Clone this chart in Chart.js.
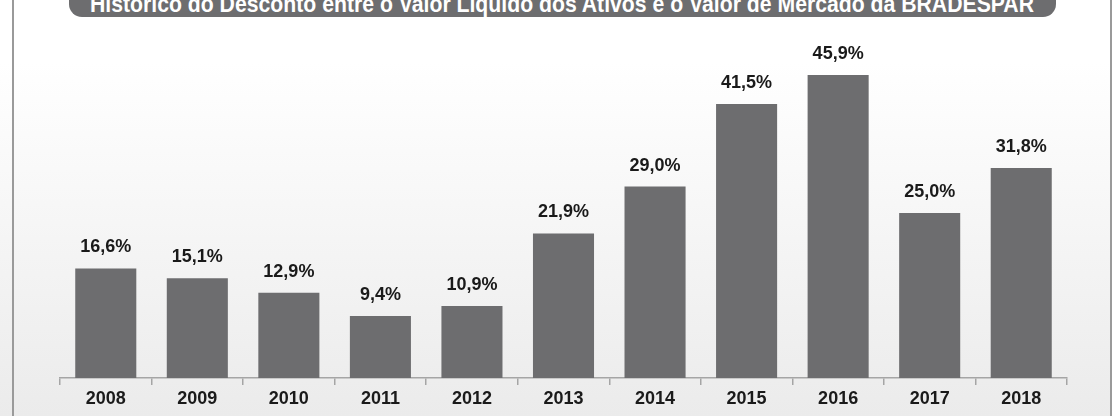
<!DOCTYPE html>
<html>
<head>
<meta charset="utf-8">
<script src="https://cdn.jsdelivr.net/npm/chart.js@4.4.0/dist/chart.umd.min.js"></script>
<style>
  html, body { margin: 0; padding: 0; }
  body { width: 1112px; height: 416px; overflow: hidden; position: relative;
         background: linear-gradient(#ffffff 15%, #ebebeb 100%); font-family: "Liberation Sans", Arial, sans-serif; }
  #frame { position: absolute; left: 12px; top: 0; width: 1100px; height: 416px;
           border-left: 2px solid #9a9a9a; border-right: 2px solid #9a9a9a; box-sizing: border-box; }
  #titleBox { position: absolute; left: 69px; top: -20px; width: 987px; height: 37px;
              background: #6d6d6f; border-radius: 0 0 13px 13px; overflow: hidden; }
  #title { position: absolute; left: 21px; top: 12px; white-space: nowrap; color: #fff;
           font-family: "Liberation Sans Narrow", "Arial Narrow", "Liberation Sans", sans-serif;
           font-weight: bold; font-size: 24px; line-height: 24px; transform-origin: 0 0; }
  #wrap { position: absolute; left: 0; top: 0; width: 1112px; height: 416px; }
</style>
</head>
<body>
<div id="frame"></div>
<div id="titleBox"><div id="title">Histórico do Desconto entre o Valor Líquido dos Ativos e o Valor de Mercado da BRADESPAR</div></div>
<div id="wrap"><canvas id="chart" width="1112" height="416"></canvas></div>
<script>
const years = ['2008', '2009', '2010', '2011', '2012', '2013', '2014', '2015', '2016', '2017', '2018'];
const discount = [16.6, 15.1, 12.9, 9.4, 10.9, 21.9, 29.0, 41.5, 45.9, 25.0, 31.8];

// stretch the title to the width it takes in the reference
const title = document.getElementById('title');
const w = title.getBoundingClientRect().width;
title.style.transform = 'scaleX(' + (944 / w) + ')';

const barLabels = {
    id: 'barLabels',
    afterDatasetsDraw(chart) {
        const ctx = chart.ctx;
        ctx.save();
        ctx.font = 'bold 18px "Liberation Sans", Arial, sans-serif';
        ctx.fillStyle = '#1a1a1a';
        ctx.textAlign = 'center';
        ctx.textBaseline = 'alphabetic';
        chart.getDatasetMeta(0).data.forEach((bar, i) => {
            const txt = discount[i].toFixed(1).replace('.', ',') + '%';
            ctx.fillText(txt, bar.x, bar.y - 16);
        });
        ctx.restore();
    }
};

const ctx = document.getElementById('chart');

let chart = new Chart(ctx, {
    type: 'bar',
    data: {
        labels: years,
        datasets: [{
            data: discount,
            backgroundColor: '#6d6d6f',
            categoryPercentage: 0.667,
            barPercentage: 1.0
        }]
    },
    options: {
        responsive: false,
        animation: false,
        layout: { padding: { left: 60, right: 45, top: 48, bottom: 0 } },
        plugins: { legend: { display: false }, tooltip: { enabled: false } },
        scales: {
            x: {
                offset: true,
                grid: { offset: true, drawOnChartArea: false, drawTicks: true, tickLength: 7, color: '#a5a5a5', lineWidth: 1.5 },
                border: { display: true, color: '#a5a5a5', width: 1.5 },
                ticks: { color: '#1a1a1a', font: { family: '"Liberation Sans", Arial, sans-serif', size: 18, weight: 'bold' }, padding: 3 },
                afterFit(scale) { scale.height = 38; }
            },
            y: {
                display: false,
                min: 0,
                max: 50
            }
        }
    },
    plugins: [barLabels]
});
</script>
</body>
</html>
